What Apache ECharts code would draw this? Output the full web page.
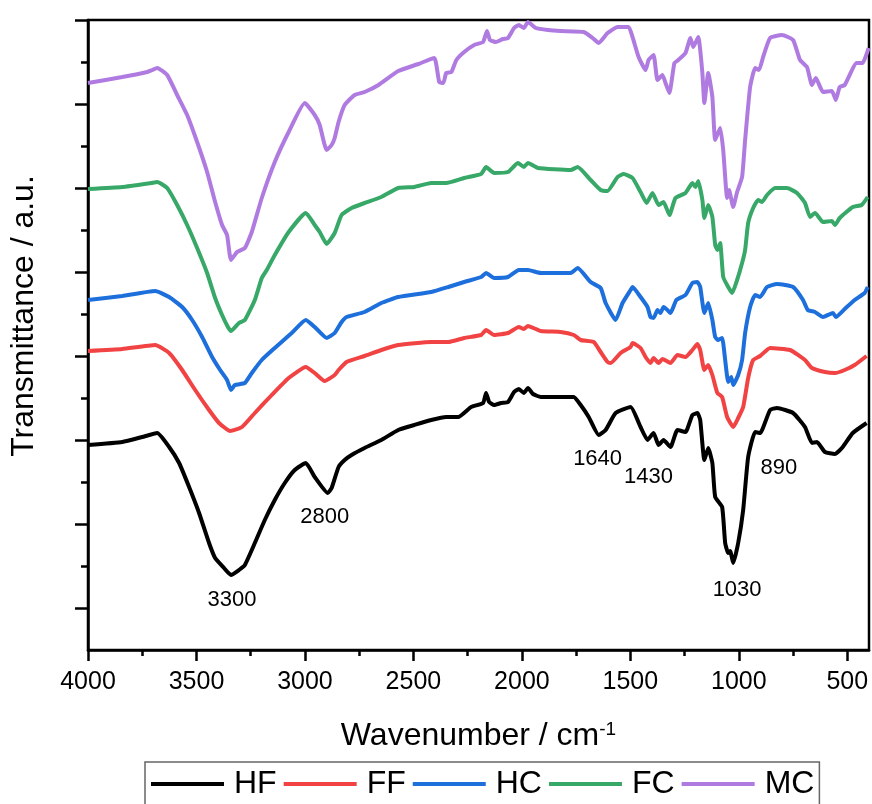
<!DOCTYPE html>
<html>
<head>
<meta charset="utf-8">
<script src="https://cdn.jsdelivr.net/npm/echarts@6/dist/echarts.min.js"></script>
<style>
html,body{margin:0;padding:0;background:#fff;}
#chart{width:872px;height:804px;}
</style>
</head>
<body>
<div id="chart"></div>
<script>
// Wavenumber (cm-1) / transmittance (a.u., stacked offsets) pairs
const seriesNames = ['HF', 'FF', 'HC', 'FC', 'MC'];
const seriesColors = ['#000000', '#F14343', '#1D6FDB', '#38A868', '#B07BE0'];

const HF = [[4000,205],[3842,208],[3750,213],[3681,217],[3626,203],[3580,187],[3534,163],[3488,137],[3442,107],[3414,92],[3373,82],[3341,75],[3304,80],[3277,85],[3231,107],[3185,130],[3139,150],[3093,167],[3047,180],[2996,187],[2955,173],[2895,157],[2877,162],[2845,183],[2817,190],[2785,195],[2725,202],[2648,210],[2570,220],[2496,225],[2418,230],[2349,233],[2294,233],[2234,243],[2179,247],[2165,257],[2151,248],[2128,245],[2096,247],[2064,248],[2036,258],[2014,261],[1991,257],[1972,262],[1949,256],[1913,253],[1775,253],[1761,253],[1729,245],[1692,233],[1646,215],[1614,220],[1568,237],[1499,243],[1453,223],[1421,210],[1393,217],[1370,205],[1347,210],[1315,203],[1283,220],[1246,218],[1214,235],[1191,237],[1178,230],[1159,190],[1141,202],[1122,187],[1109,153],[1077,143],[1063,107],[1049,97],[1040,99],[1026,87],[1003,107],[980,140],[957,193],[925,218],[902,217],[856,240],[824,242],[750,237],[695,223],[663,207],[640,208],[603,198],[557,196],[521,203],[475,217],[411,227]];

const FF = [[4000,299],[3842,301],[3690,305],[3626,297],[3566,280],[3506,260],[3442,240],[3396,227],[3345,219],[3290,223],[3231,237],[3153,255],[3075,272],[2996,283],[2955,277],[2909,269],[2863,275],[2845,280],[2808,288],[2725,294],[2648,300],[2570,305],[2418,308],[2339,308],[2266,312],[2188,315],[2165,320],[2128,315],[2064,317],[2014,323],[1991,321],[1972,324],[1913,319],[1821,318],[1761,315],[1729,310],[1669,308],[1637,298],[1605,288],[1591,287],[1545,297],[1499,303],[1490,307],[1453,302],[1430,293],[1407,287],[1393,292],[1370,287],[1352,291],[1315,287],[1283,295],[1246,293],[1214,300],[1191,306],[1178,300],[1159,280],[1141,285],[1122,275],[1099,257],[1077,253],[1054,233],[1026,223],[1003,232],[980,243],[957,272],[934,290],[902,294],[856,302],[764,300],[695,290],[663,282],[603,278],[557,277],[512,280],[466,285],[411,294]];

const HC = [[4000,350],[3842,354],[3690,359],[3626,353],[3566,343],[3520,330],[3474,313],[3428,293],[3391,280],[3359,270],[3341,260],[3323,265],[3277,267],[3245,277],[3199,290],[3139,302],[3061,317],[2996,330],[2955,323],[2900,312],[2863,317],[2831,328],[2808,333],[2725,338],[2648,347],[2570,353],[2418,358],[2339,363],[2266,368],[2188,373],[2165,377],[2128,372],[2064,373],[2014,380],[1972,380],[1913,377],[1775,377],[1743,382],[1683,368],[1637,362],[1614,347],[1568,330],[1536,347],[1499,360],[1490,363],[1453,353],[1421,343],[1407,333],[1393,332],[1375,340],[1361,337],[1347,343],[1329,340],[1315,337],[1288,350],[1246,355],[1214,367],[1191,368],[1178,363],[1159,337],[1141,347],[1122,330],[1109,313],[1095,310],[1077,312],[1063,290],[1049,268],[1035,273],[1026,265],[1003,275],[985,290],[971,317],[948,343],[925,355],[902,353],[870,363],[824,366],[750,363],[704,350],[682,340],[649,338],[612,333],[566,337],[553,333],[512,341],[466,350],[420,357],[406,363]];

const FC = [[4000,461],[3842,463],[3709,467],[3681,468],[3635,462],[3589,445],[3543,425],[3497,402],[3451,377],[3414,352],[3382,335],[3355,323],[3341,319],[3304,327],[3277,330],[3231,350],[3199,372],[3176,380],[3139,395],[3075,418],[2996,437],[2955,425],[2932,418],[2900,406],[2863,417],[2831,435],[2785,442],[2725,447],[2648,453],[2570,462],[2496,463],[2418,467],[2349,467],[2266,472],[2188,476],[2165,483],[2128,477],[2064,478],[2018,487],[1991,483],[1972,487],[1926,482],[1775,480],[1743,483],[1683,470],[1637,460],[1605,459],[1559,473],[1531,476],[1490,472],[1453,458],[1425,447],[1398,457],[1370,445],[1347,448],[1320,435],[1292,452],[1246,457],[1214,467],[1200,463],[1187,469],[1168,450],[1159,432],[1141,445],[1122,433],[1109,405],[1099,400],[1086,407],[1072,373],[1049,363],[1031,357],[1008,370],[985,387],[971,400],[957,427],[934,442],[911,450],[893,448],[870,455],[833,462],[778,462],[732,457],[695,447],[672,433],[649,437],[612,428],[571,429],[557,425],[535,432],[475,443],[434,445],[406,453]];

const MC = [[4000,567],[3842,573],[3727,578],[3704,580],[3681,582],[3635,575],[3589,555],[3543,535],[3497,508],[3451,478],[3414,448],[3382,425],[3359,415],[3341,390],[3313,398],[3277,402],[3245,418],[3199,452],[3139,488],[3075,518],[3001,547],[2955,535],[2932,525],[2900,500],[2877,505],[2863,512],[2845,528],[2817,545],[2771,555],[2725,558],[2661,565],[2570,579],[2477,586],[2404,592],[2381,568],[2362,567],[2349,577],[2325,578],[2302,590],[2266,598],[2220,605],[2179,608],[2161,619],[2147,610],[2119,608],[2087,611],[2064,612],[2036,622],[2014,625],[1991,622],[1972,628],[1936,622],[1880,620],[1821,619],[1715,618],[1674,612],[1646,607],[1605,617],[1559,623],[1508,623],[1490,613],[1462,593],[1430,580],[1416,590],[1393,595],[1375,570],[1352,575],[1338,567],[1320,557],[1297,587],[1279,590],[1246,597],[1223,612],[1210,603],[1187,613],[1168,577],[1159,547],[1141,577],[1122,553],[1109,510],[1086,522],[1072,500],[1054,452],[1045,460],[1026,443],[1008,458],[985,473],[971,510],[948,563],[925,582],[907,580],[888,593],[856,612],[801,615],[750,610],[718,590],[686,583],[663,565],[645,572],[612,558],[571,559],[553,550],[535,563],[512,565],[457,587],[429,587],[402,602]];

// Peak annotations (label text, position in data coordinates)
const annotText = ['3300', '2800', '1640', '1430', '890', '1030'];
const annotWn = [3336, 2909, 1651, 1416, 815, 1008];
const annotT = [50, 133, 191, 173, 182, 60];

// Axis ticks
const xMajorTicks = [500, 1000, 1500, 2000, 2500, 3000, 3500, 4000];
const xMinorTicks = [750, 1250, 1750, 2250, 2750, 3250, 3750];
const yMajorTicks = [42, 126, 210, 294, 378, 462, 546, 630];
const yMinorTicks = [84, 168, 252, 336, 420, 504, 588];

const FONT = 'Liberation Sans, Arial, Helvetica, sans-serif';
const chart = echarts.init(document.getElementById('chart'), null, {renderer: 'canvas'});

const allData = [HF, FF, HC, FC, MC];
const lineSeries = seriesNames.map((n, i) => ({
  name: n,
  type: 'line',
  xAxisIndex: 0,
  yAxisIndex: 0,
  data: allData[i],
  showSymbol: false,
  symbol: 'none',
  smooth: 0.15,
  lineStyle: {color: seriesColors[i], width: 4},
  itemStyle: {color: seriesColors[i]},
  z: 10 - i
}));

lineSeries.push({
  name: 'annotations',
  type: 'scatter',
  xAxisIndex: 0,
  yAxisIndex: 0,
  symbolSize: 0,
  silent: true,
  itemStyle: {opacity: 1},
  data: annotText.map((t, i) => ({name: t, value: [annotWn[i], annotT[i]]})),
  label: {
    show: true,
    position: 'inside',
    formatter: '{b}',
    color: '#000',
    opacity: 1,
    fontSize: 22,
    fontFamily: FONT
  },
  z: 20
});

const option = {
  animation: false,
  backgroundColor: '#ffffff',
  grid: {left: 86, right: 3, top: 20, bottom: 154, show: true, borderColor: '#000', borderWidth: 2.5, backgroundColor: 'transparent'},
  legend: {
    data: seriesNames,
    left: 145,
    top: 762,
    orient: 'horizontal',
    icon: 'rect',
    itemWidth: 73,
    itemHeight: 4,
    itemGap: 7,
    padding: [6, 5, 10, 6],
    borderColor: '#666',
    borderWidth: 1.5,
    textStyle: {fontSize: 32, color: '#000', fontFamily: FONT, padding: [0, 0, 0, 5]}
  },
  xAxis: [{
    type: 'value',
    inverse: true,
    min: 400,
    max: 4000,
    position: 'bottom',
    name: 'Wavenumber / cm{sup|-1}',
    nameLocation: 'middle',
    nameGap: 70,
    nameTextStyle: {fontSize: 32, color: '#000', fontFamily: FONT,
      rich: {sup: {fontSize: 19, color: '#000', fontFamily: FONT, verticalAlign: 'top', padding: [0, 0, 14, 0]}}},
    axisLine: {show: true, onZero: false, lineStyle: {color: '#000', width: 2.5}},
    axisTick: {show: true, customValues: xMajorTicks, length: 11, inside: false, lineStyle: {color: '#000', width: 2.5}},
    axisLabel: {show: true, customValues: xMajorTicks, fontSize: 25, color: '#000', fontFamily: FONT, margin: 20,
      formatter: v => String(v)},
    splitLine: {show: false}
  }, {
    type: 'value',
    inverse: true,
    min: 400,
    max: 4000,
    position: 'bottom',
    axisLine: {show: false},
    axisTick: {show: true, customValues: xMinorTicks, length: 6, inside: false, lineStyle: {color: '#000', width: 2.5}},
    axisLabel: {show: false},
    splitLine: {show: false}
  }],
  yAxis: [{
    type: 'value',
    min: 0,
    max: 630,
    position: 'left',
    name: 'Transmittance / a.u.',
    nameLocation: 'middle',
    nameGap: 48,
    nameTextStyle: {fontSize: 32, color: '#000', fontFamily: FONT, padding: [0, 0, 0, 38]},
    axisLine: {show: true, onZero: false, lineStyle: {color: '#000', width: 2.5}},
    axisTick: {show: true, customValues: yMajorTicks, length: 13, inside: false, lineStyle: {color: '#000', width: 2.5}},
    axisLabel: {show: false},
    splitLine: {show: false}
  }, {
    type: 'value',
    min: 0,
    max: 630,
    position: 'left',
    axisLine: {show: false},
    axisTick: {show: true, customValues: yMinorTicks, length: 7, inside: false, lineStyle: {color: '#000', width: 2.5}},
    axisLabel: {show: false},
    splitLine: {show: false}
  }],
  series: lineSeries
};
chart.setOption(option);
</script>
</body>
</html>
